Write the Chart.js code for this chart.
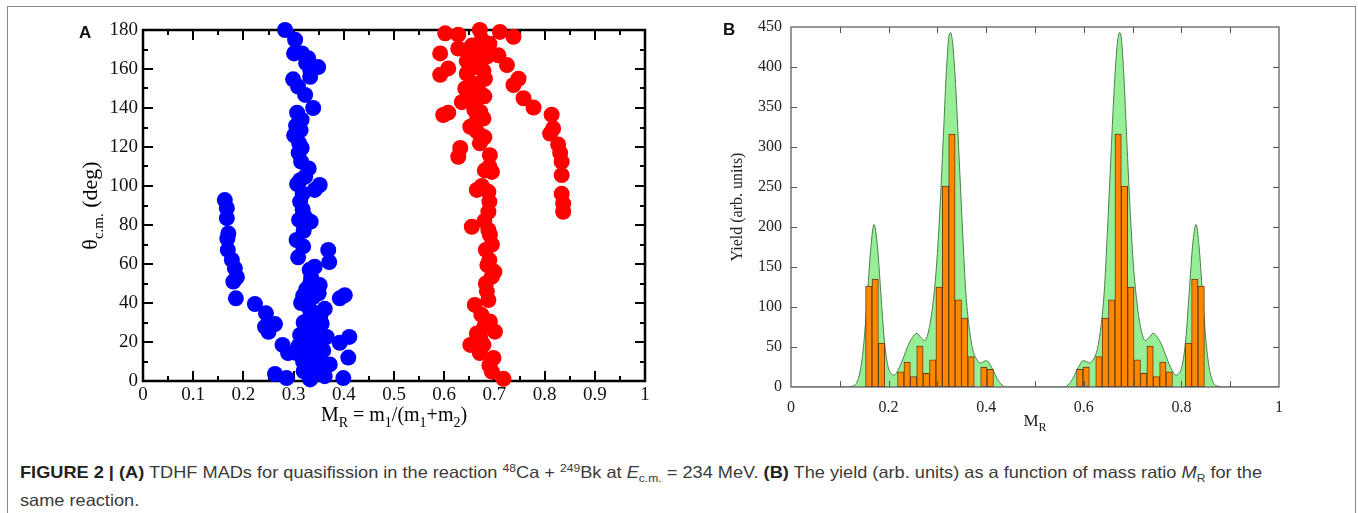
<!DOCTYPE html>
<html>
<head>
<meta charset="utf-8">
<script src="https://cdn.jsdelivr.net/npm/chart.js@4.4.1/dist/chart.umd.min.js"></script>
<style>
  html, body { margin:0; padding:0; background:#fff; }
  body { width:1358px; height:513px; position:relative; overflow:hidden; }
  #box { position:absolute; left:7px; top:6px; width:1347px; height:600px; border:1px solid #8a8a8a; }
  canvas { position:absolute; top:0; }
  #cA { left:0; }
  #cB { left:680px; }
  .letter { position:absolute; font-family:"Liberation Sans", Arial, sans-serif; font-weight:bold; font-size:17px; line-height:1; color:#111; }
  #cap { position:absolute; left:20px; top:458px; font-family:"Liberation Sans Narrow", "Liberation Sans", Arial, sans-serif; font-size:16.5px; color:#3a3a3a; line-height:28px; white-space:nowrap; }
  #cap .ln { display:inline-block; transform-origin:0 50%; }
  #cap b { color:#222; }
  #cap sup, #cap sub { font-size:11px; line-height:0; }
</style>
</head>
<body>
<div id="box"></div>
<canvas id="cA" width="680" height="440"></canvas>
<canvas id="cB" width="678" height="440"></canvas>
<div class="letter" style="left:79px; top:24px;">A</div>
<div class="letter" style="left:723px; top:21px;">B</div>
<div id="cap"><span class="ln" id="l1"><b>FIGURE 2 | (A)</b> TDHF MADs for quasifission in the reaction <sup>48</sup>Ca + <sup>249</sup>Bk at <i>E</i><sub>c.m.</sub> = 234 MeV. <b>(B)</b> The yield (arb. units) as a function of mass ratio <i>M</i><sub>R</sub> for the</span><br><span class="ln" id="l2">same reaction.</span></div>
<script>
// ---------------- DATA ----------------
// Panel A: TDHF mass-angle distribution points
const blueMR = [0.283,0.303,0.301,0.317,0.329,0.349,0.333,0.333,0.299,0.309,0.323,0.339,0.307,0.316,0.314,0.301,0.311,0.316,0.315,0.313,0.323,0.307,0.352,0.342,0.313,0.311,0.334,0.323,0.306,0.319,0.309,0.342,0.332,0.369,0.371,0.352,0.333,0.319,0.339,0.392,0.402,0.329,0.362,0.333,0.353,0.326,0.356,0.339,0.313,0.366,0.392,0.411,0.326,0.349,0.409,0.359,0.333,0.306,0.319,0.346,0.372,0.329,0.362,0.333,0.286,0.263,0.399,0.320,0.340,0.320,0.345,
  0.325,0.335,0.315,0.350,0.345,0.340,0.355,0.310,0.320,0.330,0.318,0.318,0.320,0.310,0.305,0.325,
  0.163,0.167,0.167,0.170,0.168,0.169,0.177,0.183,0.187,0.180,0.185,0.223,0.245,0.263,0.250,0.243,0.278,0.289];
const blueTheta = [180,175,168,168,165.5,161,159.5,156,154.7,151,146.7,140,137.6,134,128.7,126,122,119.5,112.5,103,104.8,101,100.5,98,92,82.6,81.7,84,72.3,69,63.4,58.6,57,67.2,61,49.2,50,43.6,43,42.4,44,38,37,33,33,28.7,29.5,25.5,23.6,22.6,19.6,22.6,20,19,12,15.7,15,14.3,9.9,10,8.5,4.8,2.5,0.8,1.5,3.6,1.5,30,35,5,27,
  47,53,40,45,15,5,8,18,12,109,96,88,77,117,131,163,
  92.8,88.6,83.5,75.7,73,67.2,62.1,57.8,53.2,51,42.4,39.5,34.7,29.2,25.2,27.8,18.5,14.3];
const redMR = [0.602,0.628,0.671,0.711,0.738,0.592,0.628,0.665,0.708,0.645,0.685,0.725,0.608,0.592,0.645,0.681,0.748,0.738,0.642,0.671,0.758,0.635,0.661,0.778,0.598,0.608,0.678,0.814,0.652,0.817,0.811,0.671,0.632,0.827,0.831,0.628,0.691,0.834,0.681,0.695,0.834,0.665,0.688,0.834,0.837,0.837,0.688,0.655,0.688,0.691,0.683,0.686,0.695,0.683,0.688,0.661,0.674,0.691,0.701,0.665,0.652,0.678,0.671,0.698,0.695,0.718,
  0.655,0.665,0.678,0.665,0.648,0.675,0.658,0.672,0.660,0.668,
  0.655,0.670,0.690,0.660,0.680,0.672,0.665,0.680,0.690,0.675,0.690,0.680,0.695,0.690,0.700,0.685,0.680,0.672,0.690];
const redTheta = [178.3,177.6,180,179,176.5,168,170.5,172,167,164,166.3,162,160.3,157,157.7,155,155,151.8,150,148,145,143,142,140.2,136.4,137.6,134.6,136.6,130.4,129.5,126.9,121.9,119.5,121.3,117,115,115.8,112.5,108,107.2,105.6,98,97,96,91,86.8,86.8,79.1,77.5,75,67.2,59.4,53.5,50,41.5,39,34,30.5,25.3,24.4,18.5,18.5,14.3,11.8,4.8,1.1,
  153,161,159,133.8,169,175,145,126,139,164,
  172,168,173,150,146,138,128,125,110,100,92,82,70,62,56,46,28,22,8];

// Panel B: histogram bins (bin centres) and yields, plus smooth distribution
const binCenters = [0.1594,0.1725,0.1856,0.1987,0.2118,0.2249,0.2380,0.2511,0.2642,0.2773,0.2904,0.3035,0.3166,0.3297,0.3428,0.3559,0.3690,0.3821,0.3952,0.4083,
                    0.5917,0.6048,0.6179,0.6310,0.6441,0.6572,0.6703,0.6834,0.6965,0.7096,0.7227,0.7358,0.7489,0.7620,0.7751,0.7882,0.8013,0.8144,0.8275,0.8406];
const binYields  = [126,135,55,null,null,19,31,13,51,17,34,125,251,316,109,86,38,null,25,22,
                    22,25,null,38,86,109,316,251,125,34,17,51,13,31,19,null,null,55,135,126];
const curveMR    = [0,0.110,0.125,0.135,0.143,0.150,0.157,0.164,0.170,0.177,0.184,0.191,0.198,0.205,0.212,0.220,0.230,0.240,0.250,0.258,0.266,0.274,0.282,0.290,0.298,0.305,0.312,0.318,0.324,0.327,0.332,0.338,0.345,0.352,0.358,0.365,0.372,0.380,0.388,0.395,0.401,0.408,0.415,0.422,0.430,0.440,
                    0.560,0.570,0.578,0.585,0.592,0.599,0.605,0.612,0.620,0.628,0.635,0.642,0.648,0.655,0.662,0.668,0.673,0.676,0.682,0.688,0.695,0.702,0.710,0.718,0.726,0.734,0.742,0.750,0.760,0.770,0.780,0.788,0.795,0.802,0.809,0.816,0.823,0.830,0.836,0.843,0.850,0.857,0.865,0.875,0.890,1];
const curveYield = [0,0,1,6,24,60,118,177,203,177,118,60,28,17,15,22,36,52,63,67,62,58,70,100,150,220,310,390,440,443,425,370,280,190,120,75,48,35,30,32,33,28,20,11,4,0,
                    0,4,11,20,28,33,32,30,35,48,75,120,190,280,370,425,443,440,390,310,220,150,100,70,58,62,67,63,52,36,22,15,17,28,60,118,177,203,177,118,60,24,6,1,0,0];

const xTickStepA = 0.1, yTickStepA = 20;
const xTickStepB = 0.1, yTickStepB = 50;

// ---------------- HELPERS ----------------
const SERIF = '"Liberation Serif", "Times New Roman", serif';
function fmt(v){ const r = Math.round(v*100)/100; return String(r); }

function richWidth(ctx, parts, size){
  let w = 0;
  for (const p of parts){ ctx.font = (p.sub ? Math.round(size*0.68) : size) + 'px ' + SERIF; w += ctx.measureText(p.t).width; }
  return w;
}
function richDraw(ctx, parts, x, y, size){
  let cx = x;
  for (const p of parts){
    const s = p.sub ? Math.round(size*0.68) : size;
    ctx.font = s + 'px ' + SERIF;
    ctx.fillText(p.t, cx, y + (p.sub ? size*0.28 : 0));
    cx += ctx.measureText(p.t).width;
  }
}

const framePlugin = {
  id: 'frame',
  beforeDatasetsDraw(chart, args, o){ if (o.under) drawFrame(chart, o); },
  afterDatasetsDraw(chart, args, o){ if (!o.under) drawFrame(chart, o); },
  afterDraw(chart, args, o){
    const {ctx, chartArea:a} = chart;
    ctx.save();
    ctx.fillStyle = o.textColor || '#000';
    ctx.textBaseline = 'alphabetic';
    for (const t of (o.titles || [])){
      const w = richWidth(ctx, t.parts, t.size);
      if (t.pos === 'bottom'){
        richDraw(ctx, t.parts, (a.left + a.right)/2 - w/2, a.bottom + t.offset, t.size);
      } else {
        ctx.save();
        ctx.translate(a.left - t.offset, (a.top + a.bottom)/2);
        ctx.rotate(-Math.PI/2);
        richDraw(ctx, t.parts, -w/2, t.size*0.33, t.size);
        ctx.restore();
      }
    }
    ctx.restore();
  }
};
function drawFrame(chart, o){
  const {ctx, chartArea:a, scales:{x, y}} = chart;
  ctx.save();
  ctx.strokeStyle = o.color; ctx.lineWidth = o.width;
  ctx.strokeRect(a.left, a.top, a.right - a.left, a.bottom - a.top);
  ctx.lineWidth = o.tickWidth;
  ctx.beginPath();
  const nx = Math.round((x.max - x.min)/o.xMinor);
  for (let i = 1; i < nx; i++){
    const v = x.min + i*o.xMinor;
    const major = Math.abs(v/o.xMajor - Math.round(v/o.xMajor)) < 1e-6;
    const len = major ? o.majorLen : o.minorLen;
    const px = Math.round(x.getPixelForValue(v)) + 0.5*(o.tickWidth%2);
    ctx.moveTo(px, a.bottom); ctx.lineTo(px, a.bottom - len);
    ctx.moveTo(px, a.top); ctx.lineTo(px, a.top + len);
  }
  const ny = Math.round((y.max - y.min)/o.yMinor);
  for (let i = 1; i < ny; i++){
    const v = y.min + i*o.yMinor;
    const major = Math.abs(v/o.yMajor - Math.round(v/o.yMajor)) < 1e-6;
    const len = major ? o.majorLen : o.minorLen;
    const py = Math.round(y.getPixelForValue(v)) + 0.5*(o.tickWidth%2);
    ctx.moveTo(a.left, py); ctx.lineTo(a.left + len, py);
    ctx.moveTo(a.right, py); ctx.lineTo(a.right - len, py);
  }
  ctx.stroke();
  ctx.restore();
}

// ---------------- PANEL A ----------------
const bluePts = blueMR.map((m,i)=>({x:m, y:blueTheta[i]}));
const redPts = redMR.map((m,i)=>({x:m, y:redTheta[i]}));

new Chart(document.getElementById('cA'), {
  type: 'scatter',
  data: { datasets: [
    { data: bluePts, backgroundColor:'#0000ff', borderWidth:0, pointRadius:8, pointHoverRadius:8, clip:false },
    { data: redPts,  backgroundColor:'#ff0000', borderWidth:0, pointRadius:8, pointHoverRadius:8, clip:false }
  ]},
  options: {
    responsive:false, animation:false, devicePixelRatio:1,
    layout:{ padding:{ left:0, top:30, right:35, bottom:0 } },
    plugins:{
      legend:{display:false}, tooltip:{enabled:false},
      frame:{
        under:true, color:'#000', width:2.5, tickWidth:2,
        xMajor:0.1, xMinor:0.05, yMajor:20, yMinor:10, majorLen:10, minorLen:5,
        titles:[
          { pos:'bottom', offset:40, size:20, parts:[{t:'M'},{t:'R',sub:true},{t:' = m'},{t:'1',sub:true},{t:'/(m'},{t:'1',sub:true},{t:'+m'},{t:'2',sub:true},{t:')'}] },
          { pos:'left', offset:53, size:22, parts:[{t:'θ'},{t:'c.m.',sub:true},{t:' (deg)'}] }
        ]
      }
    },
    scales:{
      x:{ type:'linear', min:0, max:1,
          grid:{display:false, drawTicks:false}, border:{display:false},
          ticks:{ stepSize:xTickStepA, autoSkip:false, maxRotation:0, padding:3, color:'#111', font:{family:SERIF, size:19}, callback:(v)=>fmt(v) },
          afterFit(s){ s.height = 59; } },
      y:{ type:'linear', min:0, max:180,
          grid:{display:false, drawTicks:false}, border:{display:false},
          ticks:{ stepSize:yTickStepA, autoSkip:false, padding:5, color:'#111', font:{family:SERIF, size:19}, callback:(v)=>fmt(v) },
          afterFit(s){ s.width = 143; } }
    }
  },
  plugins:[framePlugin]
});

// ---------------- PANEL B ----------------
const barPts = binCenters.map((c,i)=>({x:c, y:binYields[i]}));
const curvePts = curveMR.map((m,i)=>({x:m, y:curveYield[i]}));

new Chart(document.getElementById('cB'), {
  type: 'bar',
  data: { datasets: [
    { type:'line', data: curvePts, order:2, borderColor:'#4b7f4b', borderWidth:1, backgroundColor:'#96ef96',
      fill:'origin', pointRadius:0, cubicInterpolationMode:'monotone' },
    { type:'bar', data: barPts, order:1, backgroundColor:'#ff8800', borderColor:'#6b3a10', borderWidth:1,
      borderSkipped:false, barPercentage:1, categoryPercentage:1 }
  ]},
  options: {
    responsive:false, animation:false, devicePixelRatio:1,
    layout:{ padding:{ left:0, top:27, right:79, bottom:0 } },
    plugins:{
      legend:{display:false}, tooltip:{enabled:false},
      frame:{
        under:false, color:'#555', width:1.2, tickWidth:1,
        xMajor:0.1, xMinor:0.1, yMajor:50, yMinor:50, majorLen:6, minorLen:6,
        textColor:'#222',
        titles:[
          { pos:'bottom', offset:39, size:17, parts:[{t:'M'},{t:'R',sub:true}] },
          { pos:'left', offset:54, size:16, parts:[{t:'Yield (arb. units)'}] }
        ]
      }
    },
    scales:{
      x:{ type:'linear', min:0, max:1, offset:false,
          grid:{display:false, drawTicks:false, offset:false}, border:{display:false},
          ticks:{ stepSize:xTickStepB, autoSkip:false, maxRotation:0, padding:11, color:'#222', font:{family:SERIF, size:16},
                  callback:(v)=>{ const k = Math.round(v*10); return (k % 2 === 0) ? fmt(v) : ''; } },
          afterFit(s){ s.height = 53; } },
      y:{ type:'linear', min:0, max:450,
          grid:{display:false, drawTicks:false}, border:{display:false},
          ticks:{ stepSize:yTickStepB, autoSkip:false, padding:9, color:'#222', font:{family:SERIF, size:16}, callback:(v)=>fmt(v) },
          afterFit(s){ s.width = 111; } }
    }
  },
  plugins:[framePlugin]
});

// ---------------- CAPTION fit ----------------
(function(){
  const l1 = document.getElementById('l1'), l2 = document.getElementById('l2');
  const w = l1.getBoundingClientRect().width;
  const s = 1242 / w;
  l1.style.transform = 'scaleX(' + s + ')';
  l2.style.transform = 'scaleX(' + s + ')';
})();
</script>
</body>
</html>
